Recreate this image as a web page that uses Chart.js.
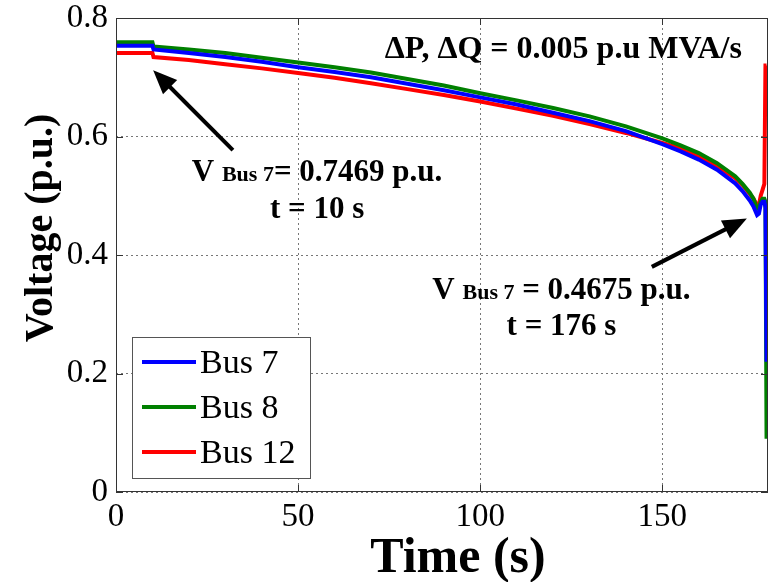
<!DOCTYPE html>
<html>
<head>
<meta charset="utf-8">
<script src="https://cdn.jsdelivr.net/npm/chart.js@4.4.1/dist/chart.umd.min.js"></script>
<style>
  html, body { margin: 0; padding: 0; background: #fff; }
  #wrap { width: 770px; height: 582px; }
</style>
</head>
<body>
<div id="wrap"><canvas id="voltage"></canvas></div>
<script>
// time axis (s) and bus voltages (p.u.)
const time  = [0, 10, 10.3, 20, 30, 40, 50, 60, 70, 80, 90, 100, 110, 120, 130, 140, 150, 155, 160, 165, 170, 172, 174, 175, 176, 176.5, 177, 177.5, 178, 178.3, 178.6];
const bus7  = [0.753, 0.753, 0.7469, 0.741, 0.734, 0.726, 0.717, 0.709, 0.700, 0.689, 0.678, 0.666, 0.654, 0.640, 0.626, 0.609, 0.587, 0.575, 0.561, 0.544, 0.521, 0.508, 0.492, 0.482, 0.4675, 0.470, 0.485, 0.490, 0.490, 0.480, 0.220];
const bus8  = [0.759, 0.759, 0.752, 0.747, 0.741, 0.733, 0.725, 0.717, 0.708, 0.697, 0.686, 0.673, 0.661, 0.648, 0.634, 0.617, 0.597, 0.585, 0.572, 0.555, 0.533, 0.520, 0.505, 0.495, 0.478, 0.478, 0.490, 0.495, 0.495, 0.490, 0.090];
const bus12 = [0.741, 0.741, 0.734, 0.729, 0.722, 0.715, 0.707, 0.699, 0.690, 0.680, 0.670, 0.659, 0.647, 0.635, 0.621, 0.606, 0.589, 0.580, 0.567, 0.550, 0.530, 0.518, 0.503, 0.495, 0.484, 0.484, 0.500, 0.510, 0.520, 0.720, 0.720];

const seriesNames  = ['Bus 7', 'Bus 8', 'Bus 12'];
const seriesColors = ['#0000ff', '#008000', '#ff0000'];
const xTicks = [0, 50, 100, 150];
const yTicks = [0, 0.2, 0.4, 0.6, 0.8];

const serif = '"Liberation Serif", "Times New Roman", serif';

const toPoints = vals => time.map((t, i) => ({ x: t, y: vals[i] }));

// draws text made of runs of different sizes, centred on cx
function drawRuns(ctx, parts, cx, baseY) {
  let w = 0;
  parts.forEach(p => { ctx.font = 'bold ' + p[1] + 'px ' + serif; w += ctx.measureText(p[0]).width; });
  let xx = cx - w / 2;
  ctx.textAlign = 'left';
  ctx.textBaseline = 'alphabetic';
  parts.forEach(p => {
    ctx.font = 'bold ' + p[1] + 'px ' + serif;
    ctx.fillText(p[0], xx, baseY);
    xx += ctx.measureText(p[0]).width;
  });
}

function drawArrow(ctx, x1, y1, x2, y2) {
  const ang = Math.atan2(y2 - y1, x2 - x1);
  const c = Math.cos(ang), s = Math.sin(ang);
  const head = 24, half = 10;
  ctx.lineWidth = 4;
  ctx.beginPath();
  ctx.moveTo(x1, y1);
  ctx.lineTo(x2 - head * 0.8 * c, y2 - head * 0.8 * s);
  ctx.stroke();
  ctx.beginPath();
  ctx.moveTo(x2, y2);
  ctx.lineTo(x2 - head * c + half * s, y2 - head * s - half * c);
  ctx.lineTo(x2 - head * c - half * s, y2 - head * s + half * c);
  ctx.closePath();
  ctx.fill();
}

const extras = {
  id: 'extras',
  afterDatasetsDraw(chart) {
    const { ctx, chartArea: a, scales: { x, y } } = chart;
    ctx.save();

    // axes box + inward ticks
    ctx.strokeStyle = '#333';
    ctx.lineWidth = 1;
    ctx.strokeRect(a.left + 0.5, a.top + 0.5, a.right - a.left - 1, a.bottom - a.top - 1);
    ctx.beginPath();
    xTicks.forEach(v => {
      const px = Math.round(x.getPixelForValue(v)) + 0.5;
      ctx.moveTo(px, a.bottom); ctx.lineTo(px, a.bottom - 7);
      ctx.moveTo(px, a.top); ctx.lineTo(px, a.top + 7);
    });
    yTicks.forEach(v => {
      const py = Math.round(y.getPixelForValue(v)) + 0.5;
      ctx.moveTo(a.left, py); ctx.lineTo(a.left + 7, py);
      ctx.moveTo(a.right, py); ctx.lineTo(a.right - 7, py);
    });
    ctx.stroke();

    // axis titles
    ctx.fillStyle = '#000';
    ctx.textAlign = 'center';
    ctx.textBaseline = 'alphabetic';
    ctx.font = 'bold 50px ' + serif;
    ctx.fillText('Time (s)', a.left + 342, 572);
    ctx.save();
    ctx.translate(52, 228);
    ctx.rotate(-Math.PI / 2);
    ctx.font = 'bold 40px ' + serif;
    ctx.fillText('Voltage (p.u.)', 0, 0);
    ctx.restore();

    // legend
    const lx = a.left + 16, ly = 337;
    ctx.fillStyle = '#fff';
    ctx.fillRect(lx, ly, 178, 141);
    ctx.strokeStyle = '#555';
    ctx.lineWidth = 1;
    ctx.strokeRect(lx + 0.5, ly + 0.5, 178, 141);
    ctx.font = '34px ' + serif;
    ctx.textAlign = 'left';
    ctx.textBaseline = 'middle';
    seriesNames.forEach((name, i) => {
      const yy = ly + 25 + i * 45;
      ctx.strokeStyle = seriesColors[i];
      ctx.lineWidth = 4;
      ctx.beginPath();
      ctx.moveTo(lx + 10, yy); ctx.lineTo(lx + 64, yy);
      ctx.stroke();
      ctx.fillStyle = '#000';
      ctx.fillText(name, lx + 68, yy + 2);
    });

    // annotations
    ctx.fillStyle = '#000';
    ctx.strokeStyle = '#000';
    ctx.font = 'bold 32px ' + serif;
    ctx.textAlign = 'center';
    ctx.textBaseline = 'alphabetic';
    ctx.fillText('\u0394P, \u0394Q = 0.005 p.u MVA/s', x.getPixelForValue(122.8), y.getPixelForValue(0.7325));

    drawRuns(ctx, [['V ', 31], ['Bus 7', 22], ['= 0.7469 p.u.', 31]], x.getPixelForValue(55.2), y.getPixelForValue(0.525));
    drawRuns(ctx, [['t = 10 s', 31]], x.getPixelForValue(55.2), y.getPixelForValue(0.4625));
    drawRuns(ctx, [['V ', 31], ['Bus 7', 22], [' = 0.4675 p.u.', 31]], x.getPixelForValue(122.3), y.getPixelForValue(0.326));
    drawRuns(ctx, [['t = 176 s', 31]], x.getPixelForValue(122.3), y.getPixelForValue(0.265));

    drawArrow(ctx, x.getPixelForValue(32.1), y.getPixelForValue(0.577), x.getPixelForValue(10.2), y.getPixelForValue(0.712));
    drawArrow(ctx, x.getPixelForValue(147.1), y.getPixelForValue(0.380), x.getPixelForValue(173.2), y.getPixelForValue(0.4617));

    ctx.restore();
  }
};

const chart = new Chart(document.getElementById('voltage'), {
  type: 'line',
  data: {
    datasets: [
      { label: seriesNames[0], data: toPoints(bus7),  borderColor: seriesColors[0] },
      { label: seriesNames[1], data: toPoints(bus8),  borderColor: seriesColors[1] },
      { label: seriesNames[2], data: toPoints(bus12), borderColor: seriesColors[2] }
    ]
  },
  options: {
    responsive: true,
    maintainAspectRatio: false,
    animation: false,
    layout: { autoPadding: false, padding: { top: 18, right: 2, left: 0, bottom: 0 } },
    elements: {
      point: { radius: 0 },
      line: { borderWidth: 4, tension: 0 }
    },
    plugins: {
      legend: { display: false },
      tooltip: { enabled: false }
    },
    scales: {
      x: {
        type: 'linear',
        min: 0,
        max: 179,
        afterBuildTicks: axis => { axis.ticks = xTicks.map(v => ({ value: v })); },
        afterFit: axis => { axis.height = 90; axis.paddingLeft = 0; axis.paddingRight = 0; },
        grid: { color: '#777', lineWidth: 1, drawTicks: false },
        border: { display: false, dash: [2, 3] },
        ticks: { color: '#000', padding: 6, maxRotation: 0, font: { family: serif, size: 33 } }
      },
      y: {
        min: 0,
        max: 0.8,
        afterBuildTicks: axis => { axis.ticks = yTicks.map(v => ({ value: v })); },
        afterFit: axis => { axis.width = 116; axis.paddingTop = 0; axis.paddingBottom = 0; },
        grid: { color: '#777', lineWidth: 1, drawTicks: false },
        border: { display: false, dash: [2, 3] },
        ticks: {
          color: '#000', padding: 8, font: { family: serif, size: 33 },
          callback: v => v === 0 ? '0' : v.toFixed(1)
        }
      }
    }
  },
  plugins: [extras]
});
</script>
</body>
</html>
